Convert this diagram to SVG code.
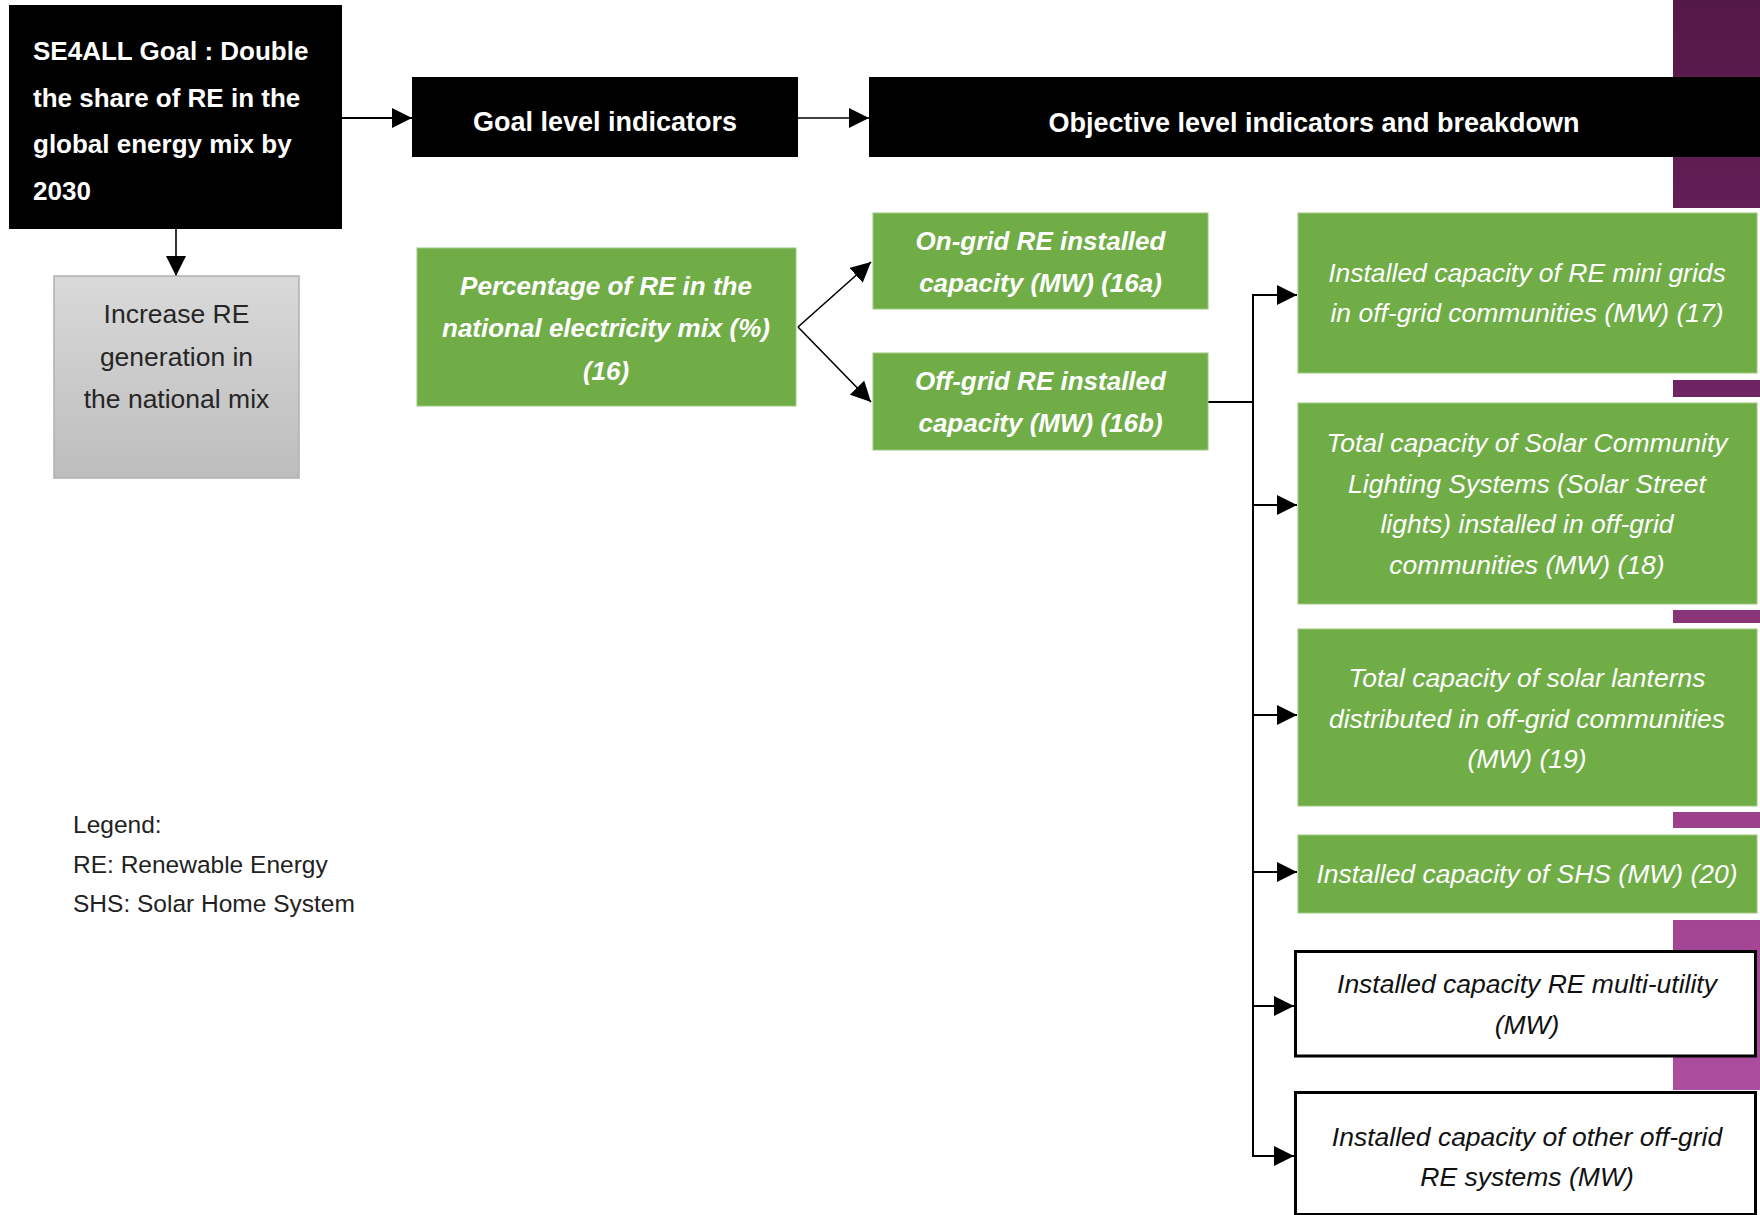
<svg xmlns="http://www.w3.org/2000/svg" width="1760" height="1215" viewBox="0 0 1760 1215">
  <defs>
    <style>
      text { font-family: "Liberation Sans", Arial, sans-serif; }
      .blk { fill: #000000; }
      .grn { fill: #70ad47; stroke: #9cc981; stroke-width: 1; }
      .wht { fill: #ffffff; stroke: #000000; stroke-width: 3; }
      .title { font-size: 26px; font-weight: bold; fill: #ffffff; }
      .hdr { font-size: 27px; font-weight: bold; fill: #ffffff; text-anchor: middle; }
      .gbi { font-size: 26px; font-weight: bold; font-style: italic; fill: #ffffff; text-anchor: middle; }
      .gi { font-size: 26.5px; font-style: italic; fill: #ffffff; text-anchor: middle; }
      .wi { font-size: 26.5px; font-style: italic; fill: #111111; text-anchor: middle; }
      .gray { font-size: 26.5px; fill: #262626; text-anchor: middle; }
      .legend { font-size: 24.5px; fill: #222222; }
      .conn { fill: none; stroke: #000000; stroke-width: 2; }
      .thin { fill: none; stroke: #000000; stroke-width: 1.6; }
    </style>
    <marker id="arrow" viewBox="0 0 20 20" markerUnits="userSpaceOnUse" markerWidth="20" markerHeight="20" refX="20" refY="10" orient="auto">
      <path d="M0,0 L20,10 L0,20 Z" fill="#000000"/>
    </marker>
    <linearGradient id="grayFill" x1="0" y1="0" x2="0" y2="1">
      <stop offset="0" stop-color="#d9d9d9"/>
      <stop offset="1" stop-color="#bdbdbd"/>
    </linearGradient>
    <linearGradient id="purple" gradientUnits="userSpaceOnUse" x1="0" y1="0" x2="0" y2="1090">
      <stop offset="0" stop-color="#541847"/>
      <stop offset="0.35" stop-color="#6e2462"/>
      <stop offset="0.57" stop-color="#8b3579"/>
      <stop offset="0.75" stop-color="#9d408c"/>
      <stop offset="1" stop-color="#ac4d9e"/>
    </linearGradient>
  </defs>

  <rect x="0" y="0" width="1760" height="1215" fill="#ffffff"/>

  <!-- decorative purple side band -->
  <g id="side-band" fill="url(#purple)">
    <rect x="1673" y="0" width="87" height="208"/>
    <rect x="1673" y="380" width="87" height="17"/>
    <rect x="1673" y="610" width="87" height="13"/>
    <rect x="1673" y="812" width="87" height="16"/>
    <rect x="1673" y="920" width="87" height="170"/>
  </g>

  <!-- connectors -->
  <g id="connectors">
    <line class="conn" x1="342" y1="118" x2="412" y2="118" marker-end="url(#arrow)"/>
    <line class="thin" x1="798" y1="118" x2="869" y2="118" marker-end="url(#arrow)"/>
    <line class="thin" x1="176" y1="229" x2="176" y2="276" marker-end="url(#arrow)"/>
    <line class="thin" x1="798" y1="327" x2="871" y2="262" marker-end="url(#arrow)"/>
    <line class="thin" x1="798" y1="327" x2="871" y2="402" marker-end="url(#arrow)"/>
    <polyline class="conn" points="1208,402 1253,402"/>
    <line class="conn" x1="1253" y1="294" x2="1253" y2="1157"/>
    <line class="conn" x1="1252" y1="295" x2="1297" y2="295" marker-end="url(#arrow)"/>
    <line class="conn" x1="1252" y1="505" x2="1297" y2="505" marker-end="url(#arrow)"/>
    <line class="conn" x1="1252" y1="715" x2="1297" y2="715" marker-end="url(#arrow)"/>
    <line class="conn" x1="1252" y1="872" x2="1297" y2="872" marker-end="url(#arrow)"/>
    <line class="conn" x1="1252" y1="1006" x2="1294" y2="1006" marker-end="url(#arrow)"/>
    <line class="conn" x1="1252" y1="1156" x2="1294" y2="1156" marker-end="url(#arrow)"/>
  </g>

  <!-- goal -->
  <g id="goal">
    <rect class="blk" x="9" y="5" width="333" height="224"/>
    <text class="title" x="33" y="60">SE4ALL Goal : Double</text>
    <text class="title" x="33" y="107">the share of RE in the</text>
    <text class="title" x="33" y="153">global  energy mix by</text>
    <text class="title" x="33" y="200">2030</text>
  </g>

  <g id="goal-level">
    <rect class="blk" x="412" y="77" width="386" height="80"/>
    <text class="hdr" x="605" y="131">Goal level indicators</text>
  </g>

  <g id="objective-level">
    <rect class="blk" x="869" y="77" width="891" height="80"/>
    <text class="hdr" x="1314" y="132">Objective level indicators and breakdown</text>
  </g>

  <g id="increase-re">
    <rect x="54" y="276" width="245" height="202" fill="url(#grayFill)" stroke="#b0b0b0" stroke-width="1.5"/>
    <text class="gray" x="176.5" y="323">Increase RE</text>
    <text class="gray" x="176.5" y="366">generation in</text>
    <text class="gray" x="176.5" y="408">the national mix</text>
  </g>

  <g id="ind-16">
    <rect class="grn" x="417" y="248" width="379" height="158"/>
    <text class="gbi" x="606" y="295">Percentage of RE in the</text>
    <text class="gbi" x="606" y="337">national electricity mix (%)</text>
    <text class="gbi" x="606" y="380">(16)</text>
  </g>

  <g id="ind-16a">
    <rect class="grn" x="873" y="213" width="335" height="96"/>
    <text class="gbi" x="1040.5" y="250">On-grid RE installed</text>
    <text class="gbi" x="1040.5" y="292">capacity (MW) (16a)</text>
  </g>

  <g id="ind-16b">
    <rect class="grn" x="873" y="353" width="335" height="97"/>
    <text class="gbi" x="1040.5" y="390">Off-grid RE installed</text>
    <text class="gbi" x="1040.5" y="432">capacity (MW) (16b)</text>
  </g>

  <g id="ind-17">
    <rect class="grn" x="1298" y="213" width="459" height="160"/>
    <text class="gi" x="1527" y="282">Installed capacity of RE mini grids</text>
    <text class="gi" x="1527" y="322">in off-grid communities (MW) (17)</text>
  </g>

  <g id="ind-18">
    <rect class="grn" x="1298" y="403" width="459" height="201"/>
    <text class="gi" x="1527" y="452">Total capacity of Solar Community</text>
    <text class="gi" x="1527" y="493">Lighting Systems (Solar Street</text>
    <text class="gi" x="1527" y="533">lights) installed in off-grid</text>
    <text class="gi" x="1527" y="574">communities (MW) (18)</text>
  </g>

  <g id="ind-19">
    <rect class="grn" x="1298" y="629" width="459" height="177"/>
    <text class="gi" x="1527" y="687">Total capacity of solar lanterns</text>
    <text class="gi" x="1527" y="728">distributed in off-grid communities</text>
    <text class="gi" x="1527" y="768">(MW) (19)</text>
  </g>

  <g id="ind-20">
    <rect class="grn" x="1298" y="835" width="459" height="78"/>
    <text class="gi" x="1527" y="883">Installed capacity of SHS (MW) (20)</text>
  </g>

  <g id="multi-utility">
    <rect class="wht" x="1295.5" y="951.5" width="460" height="104.5"/>
    <text class="wi" x="1527" y="993">Installed capacity RE multi-utility</text>
    <text class="wi" x="1527" y="1034">(MW)</text>
  </g>

  <g id="other-offgrid">
    <rect class="wht" x="1295.5" y="1092.5" width="460" height="122"/>
    <text class="wi" x="1527" y="1146">Installed capacity of other off-grid</text>
    <text class="wi" x="1527" y="1186">RE systems (MW)</text>
  </g>

  <g id="legend">
    <text class="legend" x="73" y="833">Legend:</text>
    <text class="legend" x="73" y="873">RE: Renewable Energy</text>
    <text class="legend" x="73" y="912">SHS: Solar Home System</text>
  </g>
</svg>
